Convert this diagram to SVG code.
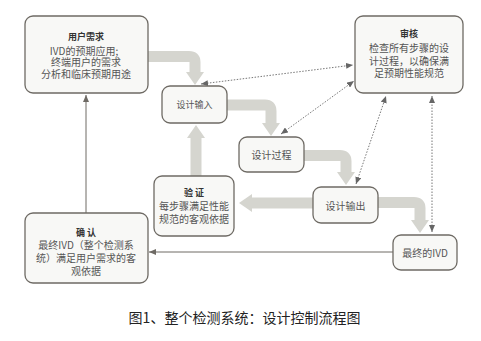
<svg xmlns="http://www.w3.org/2000/svg" width="481" height="341" viewBox="0 0 481 341">
<defs>
<style>
.box{fill:#f8f8f6;stroke:#6e6a64;stroke-width:1.3}
.t{font-family:"Noto Sans CJK SC","Noto Sans",sans-serif;font-size:10px;fill:#555;text-anchor:middle;dominant-baseline:central}
.b{font-weight:bold;fill:#333;font-size:9px}
.s{font-size:9px}
.big{fill:none;stroke:#d5d5cf;stroke-width:11;stroke-linecap:butt;marker-end:url(#bigHead)}
.thin{fill:none;stroke:#6e6a64;stroke-width:1;marker-end:url(#thinHead)}
.dot{fill:none;stroke:#777;stroke-width:1;stroke-dasharray:1.5 1.5;marker-start:url(#dotHead);marker-end:url(#dotHead)}
.cap{font-family:"Noto Sans CJK SC","Noto Sans",sans-serif;font-size:14px;fill:#222;text-anchor:middle;dominant-baseline:central}
</style>
<marker id="bigHead" markerUnits="userSpaceOnUse" markerWidth="13" markerHeight="18" viewBox="0 0 13 18" refX="0" refY="9" orient="auto"><path d="M0,0 L13,9 L0,18 Z" fill="#d5d5cf"/></marker>
<marker id="thinHead" markerUnits="userSpaceOnUse" markerWidth="7" markerHeight="6" viewBox="0 0 7 6" refX="7" refY="3" orient="auto"><path d="M0,0 L7,3 L0,6 Z" fill="#6e6a64"/></marker>
<marker id="dotHead" markerUnits="userSpaceOnUse" markerWidth="7" markerHeight="6" viewBox="0 0 7 6" refX="7" refY="3" orient="auto-start-reverse"><path d="M0,0 L7,3 L0,6 Z" fill="#666"/></marker>
</defs>
<rect width="481" height="341" fill="#fff"/>
<g id="connectors">
<path class="big" d="M148,56.5 H189 Q195,56.5 195,62 V72"/>
<path class="big" d="M227,105 H265 Q271,105 271,111 V123"/>
<path class="big" d="M196,176 V138"/>
<path class="big" d="M304,155.5 H340 Q346,155.5 346,161 V172"/>
<path class="big" d="M313,203 H252"/>
<path class="big" d="M378,202.5 H414 Q420,202.5 420,208 V220"/>
<path class="thin" d="M393,252 H149"/>
<path class="thin" d="M86,213 V95"/>
<path class="dot" d="M201,84 L353,65"/>
<path class="dot" d="M281,134 L354,81"/>
<path class="dot" d="M356,184 L386,96"/>
<path class="dot" d="M432,232 V96"/>
</g>
<g id="user-needs">
<rect class="box" x="25" y="16" width="123" height="77" rx="8"/>
<text class="t b" x="86" y="36">用户需求</text>
<text class="t" x="84" y="50">IVD的预期应用;</text>
<text class="t" x="86" y="61.5">终端用户的需求</text>
<text class="t" x="86" y="73">分析和临床预期用途</text>
</g>
<g id="review">
<rect class="box" x="355" y="16" width="108" height="77" rx="8"/>
<text class="t b" x="409" y="33">审核</text>
<text class="t" x="409" y="47.5">检查所有步骤的设</text>
<text class="t" x="409" y="60">计过程，以确保满</text>
<text class="t" x="409" y="72">足预期性能规范</text>
</g>
<g id="design-input">
<rect class="box" x="162" y="86" width="65" height="37" rx="8"/>
<text class="t s" x="194.5" y="104.5">设计输入</text>
</g>
<g id="design-process">
<rect class="box" x="239" y="137" width="65" height="35" rx="8"/>
<text class="t" x="271.5" y="154.5">设计过程</text>
</g>
<g id="design-output">
<rect class="box" x="313" y="187" width="65" height="36" rx="8"/>
<text class="t" x="345.5" y="205">设计输出</text>
</g>
<g id="verification">
<rect class="box" x="154" y="176" width="80" height="60" rx="8"/>
<text class="t b" x="194" y="192">验 证</text>
<text class="t" x="194" y="205">每步骤满足性能</text>
<text class="t" x="194" y="218">规范的客观依据</text>
</g>
<g id="final-ivd">
<rect class="box" x="393" y="235" width="64" height="35" rx="8"/>
<text class="t" x="425" y="252.5">最终的IVD</text>
</g>
<g id="validation">
<rect class="box" x="25" y="213" width="123" height="70" rx="8"/>
<text class="t b" x="86" y="232">确 认</text>
<text class="t" x="86" y="244.5">最终IVD（整个检测系</text>
<text class="t" x="86" y="257.5">统）满足用户需求的客</text>
<text class="t" x="86" y="270">观依据</text>
</g>
<text class="cap" x="244.5" y="317">图1、整个检测系统：设计控制流程图</text>
</svg>
